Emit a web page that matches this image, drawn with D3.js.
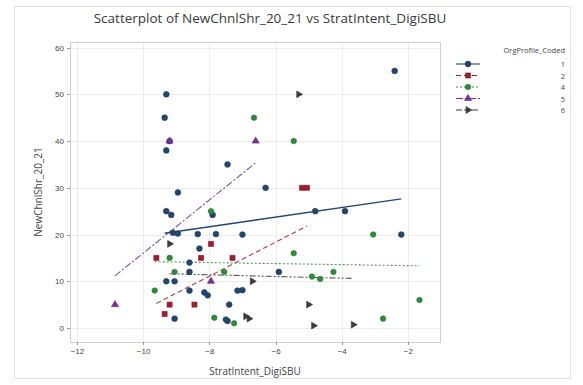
<!DOCTYPE html>
<html>
<meta charset="utf-8">
<style>
  body { margin: 0; background: #fff; }
  svg { width: 583px; height: 385px; font-family: "Open Sans", "Noto Sans", sans-serif; }
  .grid line { stroke: #ececec; shape-rendering: crispEdges; }
  .axis path, .axis line { stroke: #9a9a9a; shape-rendering: crispEdges; }
  .axis text { fill: #444; font-size: 8px; }
</style>
<body>
  <svg></svg>
</body>
<script src="https://d3js.org/d3.v7.min.js"></script>
<script>

  // groups (OrgProfile_Coded)
  var groups = ["1", "2", "4", "5", "6"];
  var groupColors = ["#23466f", "#9c1e2e", "#2f8a3c", "#7a2f95", "#3b3b3b"];

  // points per group [StratIntent_DigiSBU, NewChnlShr_20_21]
  var pts1 = [[-9.3,50],[-9.35,45],[-9.2,40],[-9.3,38],[-7.45,35],[-8.95,29],[-9.3,25],[-9.15,24.2],
              [-7.9,24.2],[-9.1,20.4],[-8.95,20.2],[-8.35,20.1],[-7.8,20.1],[-8.3,17],[-8.6,14],[-8.6,12],
              [-9.3,10],[-9.05,10],[-8.6,8],[-8.15,7.6],[-8.05,7],[-7.15,8],[-7.0,8.1],[-7.4,5],[-9.05,2],
              [-7.45,1.5],[-7.5,1.8],[-6.3,30],[-4.8,25],[-3.9,25],[-7,20],[-2.2,20],[-5.9,12],[-2.4,55]];
  var pts2 = [[-7.95,18],[-9.6,15],[-8.25,15],[-7.3,15],[-9.2,5],[-8.45,5],[-9.35,3],[-5.2,30],[-5.05,30]];
  var pts4 = [[-7.95,25],[-9.2,15],[-9.05,12],[-7.55,12],[-9.65,8],[-7.25,1],[-6.65,45],[-5.45,40],[-3.05,20],
              [-5.45,16],[-4.25,12],[-4.9,11],[-4.65,10.5],[-1.65,6],[-2.75,2],[-7.85,2.2]];
  var pts5 = [[-9.2,40],[-6.6,40],[-7.95,10],[-10.85,5]];
  var pts6 = [[-9.2,18],[-6.7,10],[-5,5],[-4.85,0.5],[-3.65,0.7],[-6.9,2.5],[-6.8,2],[-5.3,50]];
  var groupPoints = [pts1, pts2, pts4, pts5, pts6];

  // fitted lines per group: intercept, slope, x range
  var fitB0 = [29.9, 40.2, 13.12, 72.9, 9.94];
  var fitB1 = [1.03, 3.64, -0.11, 5.69, -0.18];
  var fitXmin = [-9.35, -9.6, -9.65, -10.85, -9.2];
  var fitXmax = [-2.2, -5.05, -1.65, -6.6, -3.65];
  var fitDash = ["none", "5,3", "2,2", "7,2,2,2", "6,2,2,2,2,2"];

  var xTicks = [-12, -10, -8, -6, -4, -2];
  var yTicks = [0, 10, 20, 30, 40, 50, 60];

  var margin = {top: 42, right: 143, bottom: 43, left: 70},
    width = 583 - margin.left - margin.right,
    height = 385 - margin.top - margin.bottom;

  var svg = d3.select("svg");

  // outer frame
  svg.append("rect").attr("x", 14.5).attr("y", 6.5).attr("width", 556).attr("height", 372)
    .attr("fill", "none").attr("stroke", "#e4e4e4");

  var g = svg.append("g").attr("transform", "translate(" + margin.left + "," + margin.top + ")");

  var xScale = d3.scaleLinear().domain([-12.21, -1.03]).range([0, width]);
  var yScale = d3.scaleLinear().domain([-3.0, 61.2]).range([height, 0]);

  //GRID
  g.append("g").attr("class", "grid").selectAll("line").data(xTicks).enter().append("line")
    .attr("x1", function(d){ return Math.round(xScale(d)) + 0.5; })
    .attr("x2", function(d){ return Math.round(xScale(d)) + 0.5; })
    .attr("y1", 0).attr("y2", height);
  g.append("g").attr("class", "grid").selectAll("line").data(yTicks).enter().append("line")
    .attr("y1", function(d){ return Math.round(yScale(d)) + 0.5; })
    .attr("y2", function(d){ return Math.round(yScale(d)) + 0.5; })
    .attr("x1", 0).attr("x2", width);

  // plot frame
  g.append("rect").attr("x", 0.5).attr("y", 0.5).attr("width", width).attr("height", height)
    .attr("fill", "none").attr("stroke", "#cfcfcf");

  //AXES
  var xAxis = d3.axisBottom(xScale).tickValues(xTicks).tickSize(3).tickSizeOuter(0);
  var yAxis = d3.axisLeft(yScale).tickValues(yTicks).tickSize(3).tickSizeOuter(0);
  g.append("g").attr("class", "x axis").attr("transform", "translate(0," + height + ")").call(xAxis)
    .select(".domain").remove();
  g.append("g").attr("class", "y axis").call(yAxis).select(".domain").remove();

  //FIT LINES
  groups.forEach(function(grp, i) {
    var x0 = fitXmin[i], x1 = fitXmax[i];
    g.append("line")
      .attr("x1", xScale(x0)).attr("y1", yScale(fitB0[i] + fitB1[i] * x0))
      .attr("x2", xScale(x1)).attr("y2", yScale(fitB0[i] + fitB1[i] * x1))
      .attr("stroke", groupColors[i])
      .attr("stroke-width", i == 0 ? 1.4 : 1.1)
      .attr("stroke-dasharray", fitDash[i])
      .attr("opacity", i == 0 ? 1 : 0.85);
  });

  //POINTS
  var symbolTypes = [d3.symbolCircle, d3.symbolSquare, d3.symbolCircle, d3.symbolTriangle, d3.symbolTriangle];
  var symbolSizes = [26, 26, 24, 22, 20];
  var rotations = [0, 0, 0, 0, 90];

  function marker(sel, i) {
    sel.attr("d", d3.symbol().type(symbolTypes[i]).size(symbolSizes[i])())
      .attr("fill", groupColors[i])
      .attr("stroke", d3.color(groupColors[i]).darker(0.4))
      .attr("stroke-width", 0.6);
  }

  groupPoints.forEach(function(pts, i) {
    g.append("g").selectAll("path").data(pts).enter().append("path")
      .attr("transform", function(d){
        return "translate(" + xScale(d[0]) + "," + yScale(d[1]) + ") rotate(" + rotations[i] + ")";
      })
      .call(marker, i);
  });

  //TITLES
  svg.append("text").attr("x", 270).attr("y", 23).attr("text-anchor", "middle")
    .attr("font-size", "13.5px").attr("fill", "#3a3a3a").text("Scatterplot of NewChnlShr_20_21 vs StratIntent_DigiSBU");
  svg.append("text").attr("x", margin.left + width / 2).attr("y", 375).attr("text-anchor", "middle")
    .attr("font-size", "10px").attr("fill", "#444").text("StratIntent_DigiSBU");
  svg.append("text").attr("transform", "translate(42," + (margin.top + height / 2) + ") rotate(-90)")
    .attr("text-anchor", "middle").attr("font-size", "10px").attr("fill", "#444").text("NewChnlShr_20_21");

  //LEGEND
  var legend = svg.append("g");
  legend.append("text").attr("x", 565).attr("y", 53).attr("text-anchor", "end")
    .attr("font-size", "7.5px").attr("fill", "#444").text("OrgProfile_Coded");
  groups.forEach(function(grp, i) {
    var ly = 64 + i * 11.5;
    legend.append("line").attr("x1", 456).attr("x2", 480).attr("y1", ly).attr("y2", ly)
      .attr("stroke", groupColors[i]).attr("stroke-width", 1.1).attr("stroke-dasharray", fitDash[i]);
    legend.append("path").attr("transform", "translate(468," + ly + ") rotate(" + rotations[i] + ")")
      .call(marker, i);
    legend.append("text").attr("x", 565).attr("y", ly + 3).attr("text-anchor", "end")
      .attr("font-size", "7.5px").attr("fill", "#444").text(grp);
  });

</script>
</html>
